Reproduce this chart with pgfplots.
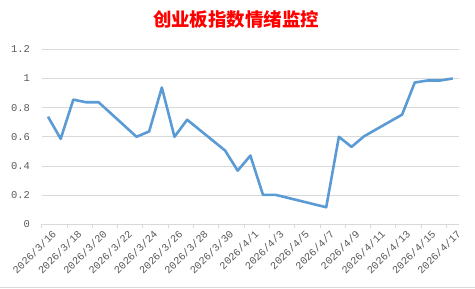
\documentclass[border=0pt]{standalone}
\usepackage{fontspec}
\setmainfont{Liberation Sans}
\newfontfamily\cjk{Noto Sans CJK SC}
\newfontfamily\tickfont{Liberation Mono}
\usepackage{pgfplots}
\pgfplotsset{compat=1.18}
\definecolor{linec}{HTML}{5B9BD5}
\definecolor{gridc}{HTML}{D9D9D9}
\definecolor{labc}{HTML}{595959}
\begin{document}
\begin{tikzpicture}[x=1bp,y=1bp]
\useasboundingbox (0,0) rectangle (475,288);
\draw[gridc] (0,1.2) -- (475,1.2);
\node[text=red,font=\cjk\bfseries\fontsize{18.5}{22}\selectfont] at (236,268) {创业板指数情绪监控};
\begin{axis}[
  at={(41.7bp,63.7bp)}, anchor=south west,
  scale only axis, width=417.3bp, height=175bp,
  xmin=-0.5, xmax=32.5, ymin=0, ymax=1.2,
  axis x line*=bottom, axis y line*=left,
  x axis line style={gridc, -},
  y axis line style={draw=none},
  ytick={0,0.2,0.4,0.6,0.8,1,1.2},
  ymajorgrids, grid style={gridc, line width=0.8pt},
  ytick style={draw=none},
  xtick={0,2,...,32},
  xticklabels={2026/3/16,2026/3/18,2026/3/20,2026/3/22,2026/3/24,2026/3/26,2026/3/28,2026/3/30,2026/4/1,2026/4/3,2026/4/5,2026/4/7,2026/4/9,2026/4/11,2026/4/13,2026/4/15,2026/4/17},
  major x tick style={draw=none},
  minor xtick={-0.5,1.5,...,32.5},
  minor x tick style={gridc, line width=0.8pt},
  minor tick length=4bp,
  tick align=outside,
  /pgf/number format/assume math mode=true,
  ticklabel style={font=\tickfont\fontsize{10.5}{12}\selectfont, text=labc},
  xticklabel style={rotate=45, anchor=north east, inner sep=1bp, xshift=3bp, yshift=-2bp},
  yticklabel style={anchor=east, xshift=-4bp},
]
\addplot[linec, line width=2.6bp, line join=round, mark=none] coordinates {
(0,0.738) (1,0.586) (2,0.855) (3,0.837) (4,0.837)
(7,0.600) (8,0.637) (9,0.938) (10,0.600) (11,0.717)
(14,0.506) (15,0.368) (16,0.471) (17,0.202) (18,0.202)
(22,0.117) (23,0.600) (24,0.531) (25,0.604)
(28,0.752) (29,0.972) (30,0.986) (31,0.986) (32,1.000)
};
\end{axis}
\end{tikzpicture}
\end{document}
